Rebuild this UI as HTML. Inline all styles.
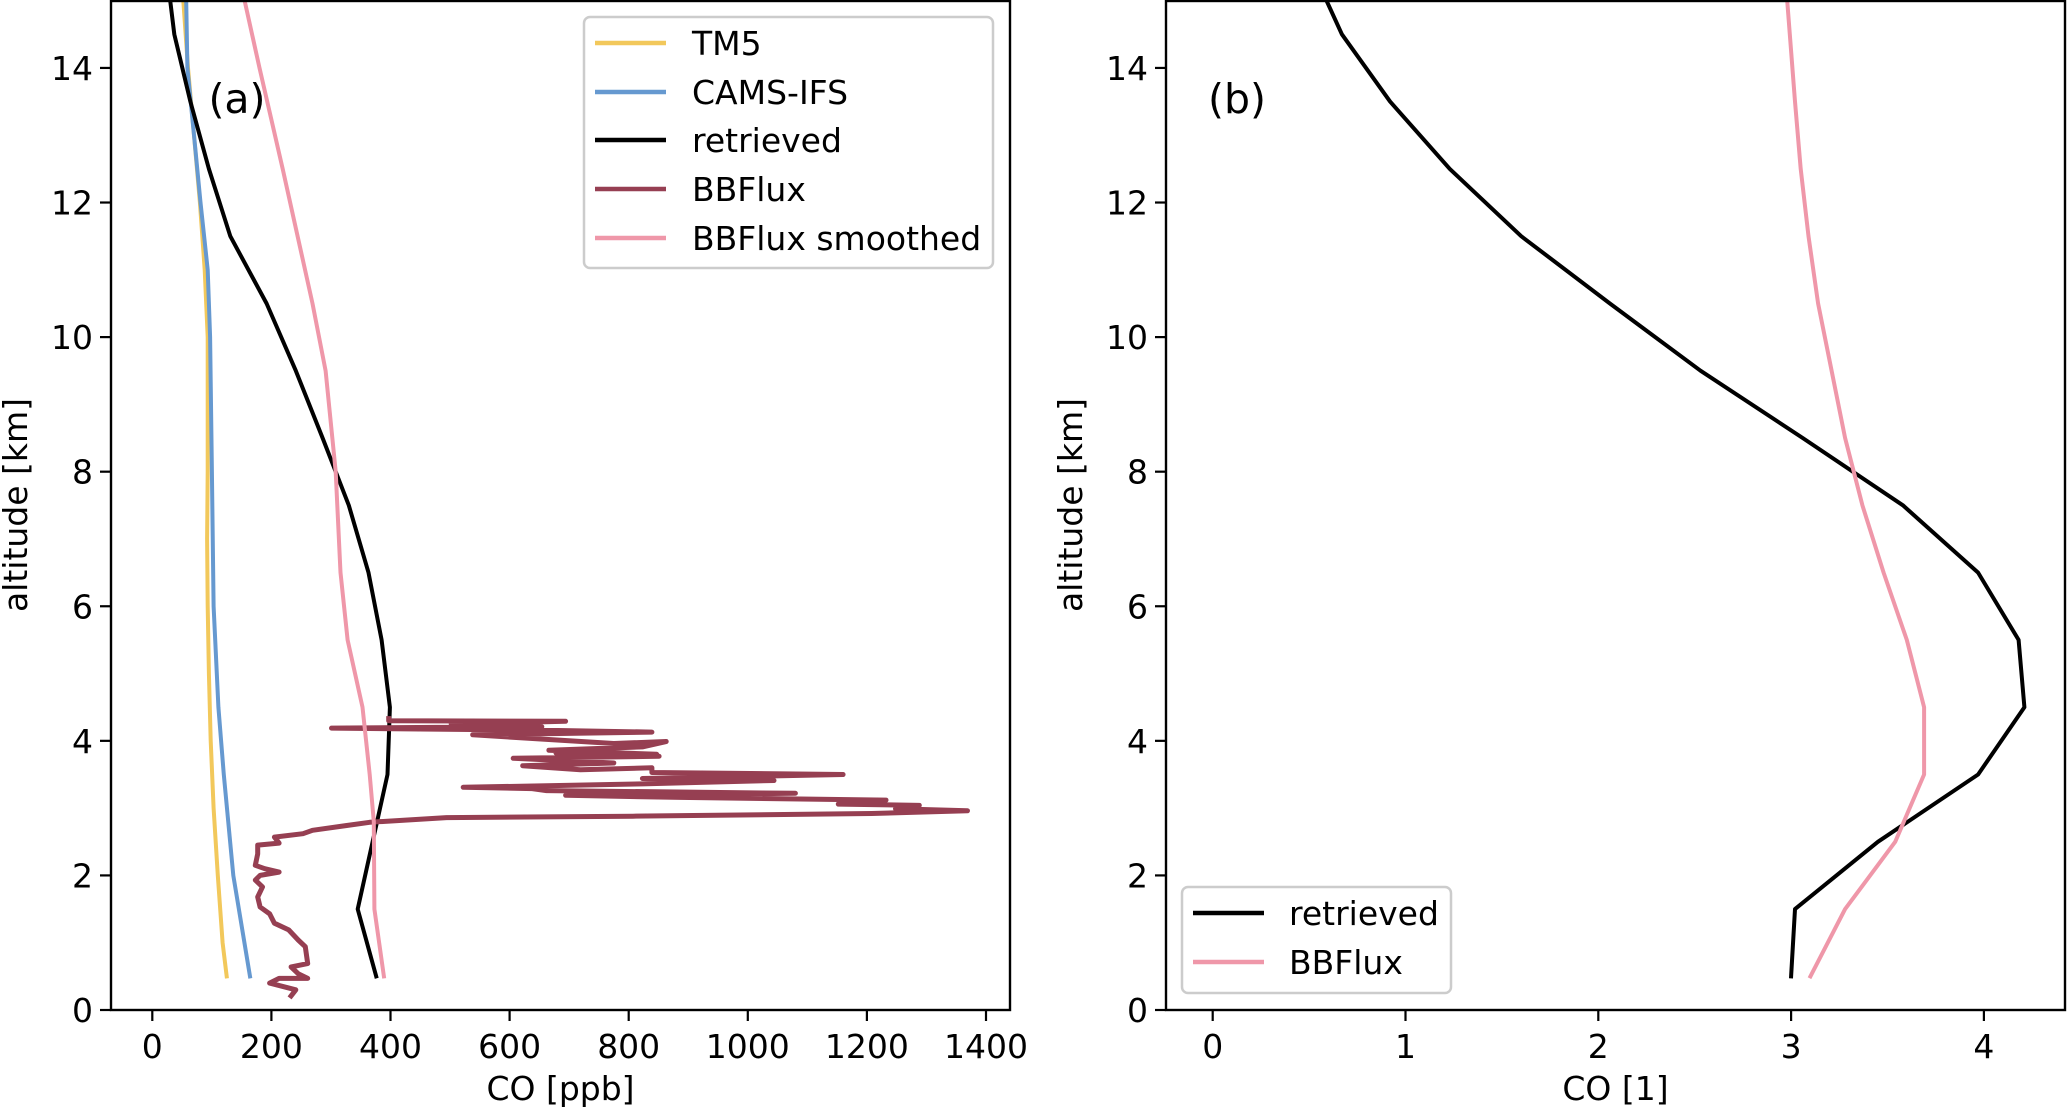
<!DOCTYPE html>
<html><head><meta charset="utf-8">
<style>
html,body{margin:0;padding:0;background:#fff;}
svg{display:block;font-family:"DejaVu Sans","Liberation Sans",sans-serif;}
</style></head>
<body>
<svg id="chart" width="2067" height="1110" viewBox="0 0 2067 1110" xmlns="http://www.w3.org/2000/svg"></svg>
<script>
// ---- Panel (a) data: [CO ppb] and altitude [km]
const tm5Alt = [0.5,1,2,3,4,5,6,7,8,9,10,11,12,13,14,15];
const tm5Val = [125,118,110,103,98,95,93,92,93,93,93,88,80,70,60,52];
const camsAlt = [0.5,2,3.5,4.5,6,8,10,11,12,13,14,15];
const camsVal = [164,136,120,111,103,100,97,93,81,70,59,57];
const retAlt = [0.5,1.5,3.5,4.5,5.5,6.5,7.5,8.5,9.5,10.5,11.5,12.5,13.5,14.5,15];
const retVal = [376,345,395,399,385,363,330,286,241,192,131,95,64,37,30];
const smAlt = [0.5,1.5,2.8,3.5,4.5,5.5,6.5,8,9.5,10.5,12.5,14,15];
const smVal = [389,373,372,365,353,328,316,308,291,269,219,180,155];
const bbVal = [233,241,197,213,261,245,233,261,257,245,229,205,197,181,177,185,173,181,213,189,173,177,177,213,205,253,269,325,365,494,807,1208,1369,1248,1288,1152,1232,887,694,1080,662,638,522,823,1044,823,1160,839,839,719,622,775,606,851,678,847,666,823,863,775,538,839,646,301,654,502,694,397,397];
const bbAlt = [0.21,0.30,0.40,0.47,0.47,0.54,0.64,0.69,0.94,1.04,1.19,1.29,1.43,1.53,1.68,1.83,1.93,2.00,2.05,2.10,2.15,2.32,2.45,2.48,2.57,2.62,2.67,2.74,2.79,2.86,2.88,2.92,2.96,2.99,3.04,3.06,3.12,3.16,3.19,3.22,3.26,3.29,3.31,3.36,3.41,3.44,3.50,3.53,3.60,3.57,3.63,3.67,3.74,3.77,3.82,3.80,3.86,3.91,3.99,3.96,4.09,4.13,4.16,4.19,4.21,4.25,4.29,4.30,4.33];
const xTicksA = [0,200,400,600,800,1000,1200,1400];
// ---- Panel (b) data: CO [1]
const bRetAlt = [0.5,1.5,2.5,3.5,4.5,5.5,6.5,7.5,8.5,9.5,10.5,11.5,12.5,13.5,14.5,15];
const bRetVal = [3.0,3.02,3.45,3.97,4.21,4.18,3.97,3.58,3.06,2.53,2.06,1.60,1.23,0.92,0.67,0.59];
const bSmAlt = [0.5,1.5,2.5,3.5,4.5,5.5,6.5,7.5,8.5,9.5,10.5,11.5,12.5,13.5,15];
const bSmVal = [3.10,3.28,3.54,3.69,3.69,3.60,3.48,3.37,3.28,3.21,3.14,3.09,3.05,3.02,2.98];
const xTicksB = [0,1,2,3,4];
const yTicks = [0,2,4,6,8,10,12,14];

const NS = "http://www.w3.org/2000/svg";
const svg = document.getElementById('chart');
function mk(tag, attrs, parent){const e=document.createElementNS(NS,tag);for(const k in attrs)e.setAttribute(k,attrs[k]);(parent||svg).appendChild(e);return e;}
const yOf = a => 1010 - 67.29*a;
const xA = v => 152.3 + 0.5955*v;
const xB = v => 1212.7 + 192.8*v;
const COL = {tm5:'#f2c85b', cams:'#6699d0', ret:'#000000', bb:'#963f52', sm:'#ef97a9'};

function series(g, xs, ys, xf, color, w, name){
  let d='';
  for(let i=0;i<xs.length;i++) d += (i?'L':'M') + xf(xs[i]).toFixed(1) + ' ' + yOf(ys[i]).toFixed(1);
  const p = mk('path',{d:d,fill:'none',stroke:color,'stroke-width':w,'stroke-linejoin':'round','stroke-linecap':'square'},g);
  
  
  return p;
}

function axes(L,R,xf,xticks,xlabel,ylabelX,panelName){
  const g = mk('g',{});
  
  
  for(const t of yTicks){
    mk('line',{x1:L-11,x2:L,y1:yOf(t),y2:yOf(t),stroke:'#000','stroke-width':2.2},g);
    const tx = mk('text',{x:L-18,y:yOf(t)+12,'text-anchor':'end','font-size':33,fill:'#000'},g);
    tx.textContent = t;
    
    
  }
  for(const t of xticks){
    mk('line',{x1:xf(t),x2:xf(t),y1:1010,y2:1021,stroke:'#000','stroke-width':2.2},g);
    const tx = mk('text',{x:xf(t),y:1058,'text-anchor':'middle','font-size':33,fill:'#000'},g);
    tx.textContent = t;
    
    
  }
  const xl = mk('text',{x:(L+R)/2,y:1100,'text-anchor':'middle','font-size':33,fill:'#000'},g);
  xl.textContent = xlabel;
  
  
  const yl = mk('text',{x:0,y:0,'text-anchor':'middle','font-size':33,fill:'#000',transform:`translate(${ylabelX},505) rotate(-90)`},g);
  yl.textContent = 'altitude [km]';
  
  
  return g;
}

const defs = mk('defs',{});
const ca = mk('clipPath',{id:'clipA'},defs); mk('rect',{x:111,y:1,width:899,height:1009},ca);
const cb = mk('clipPath',{id:'clipB'},defs); mk('rect',{x:1166,y:1,width:899,height:1009},cb);

// Panel a
axes(111,1010,xA,xTicksA,'CO [ppb]',27,'panel-a');
const ga = mk('g',{'clip-path':'url(#clipA)'});


series(ga,tm5Val,tm5Alt,xA,COL.tm5,4,'tm5-line');
series(ga,camsVal,camsAlt,xA,COL.cams,4,'cams-ifs-line');
series(ga,retVal,retAlt,xA,COL.ret,4,'retrieved-line');
series(ga,bbVal,bbAlt,xA,COL.bb,5,'bbflux-line');
series(ga,smVal,smAlt,xA,COL.sm,4,'bbflux-smoothed-line');
mk('rect',{x:111,y:1,width:899,height:1009,fill:'none',stroke:'#000','stroke-width':2.4});
const la = mk('text',{x:237,y:113,'text-anchor':'middle','font-size':41,fill:'#000'});
la.textContent='(a)';



// Panel b
axes(1166,2065,xB,xTicksB,'CO [1]',1082,'panel-b');
const gb = mk('g',{'clip-path':'url(#clipB)'});


series(gb,bRetVal,bRetAlt,xB,COL.ret,4,'retrieved-line-b');
series(gb,bSmVal,bSmAlt,xB,COL.sm,4,'bbflux-line-b');
mk('rect',{x:1166,y:1,width:899,height:1009,fill:'none',stroke:'#000','stroke-width':2.4});
const lb = mk('text',{x:1237,y:113,'text-anchor':'middle','font-size':41,fill:'#000'});
lb.textContent='(b)';



function legend(x,y,w,h,entries,lx1,lx2,tx,name){
  const g = mk('g',{});
  
  
  mk('rect',{x:x,y:y,width:w,height:h,rx:6,fill:'#fff','fill-opacity':0.85,stroke:'#cccccc','stroke-width':2.5},g);
  for(const e of entries){
    mk('line',{x1:lx1,x2:lx2,y1:e[2],y2:e[2],stroke:e[1],'stroke-width':4.5},g);
    const t = mk('text',{x:tx,y:e[2]+12,'font-size':33,fill:'#000'},g);
    t.textContent = e[0];
    
    
  }
}
legend(584,17,409,251,[['TM5',COL.tm5,43],['CAMS-IFS',COL.cams,92],['retrieved',COL.ret,140],['BBFlux',COL.bb,189],['BBFlux smoothed',COL.sm,238]],595,666,692,'legend-a');
legend(1182,887,269,106,[['retrieved',COL.ret,913],['BBFlux',COL.sm,962]],1193,1264,1289,'legend-b');
</script>
</body></html>
